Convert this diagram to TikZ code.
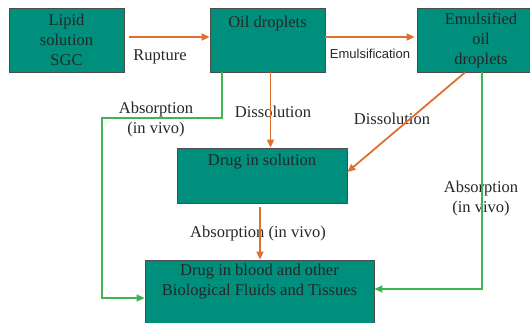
\documentclass[tikz,border=0pt]{standalone}
\usepackage{fontspec}
\setmainfont{Liberation Serif}
\newfontfamily\labelsans{Liberation Sans}
\usetikzlibrary{arrows.meta,positioning}

\definecolor{boxteal}{RGB}{0,143,125}
\definecolor{flowor}{RGB}{224,112,50}
\definecolor{absgreen}{RGB}{64,180,80}

\begin{document}
\begin{tikzpicture}[
  x=1pt, y=-1pt,
  font=\fontsize{16.5}{20}\selectfont,
  module/.style={draw=black!70, line width=0.8pt, fill=boxteal, inner sep=0pt, text=black!85, align=center, minimum width=115pt, minimum height=64pt},
  boxtext/.style={anchor=north, inner sep=5pt, text=black!85, align=center},
  flow/.style={-{Triangle[length=8pt,width=7pt]}, line width=1.8pt, draw=flowor},
  absorb/.style={-{Triangle[length=8pt,width=7pt]}, line width=1.6pt, draw=absgreen},
  tag/.style={text=black!85, align=center, inner sep=1pt}
]
\useasboundingbox (0,0) rectangle (530,322);
\clip (0,0) rectangle (530,322);

% boxes
\node[module] (lipid) at (66.5,40) {Lipid\\solution\\SGC};
\node[module, label={[boxtext, inner sep=8pt]north:Oil droplets}] (oil) at (267.5,40) {};
\node[module, minimum width=128pt] (emul) at (481,40) {Emulsified\\oil\\droplets};
\node[module, minimum width=170pt, minimum height=55pt, label={[boxtext, inner sep=6.5pt]north:Drug in solution}] (soln) at (262,175.5) {};
\node[module, minimum width=229pt, minimum height=68pt, label={[boxtext, inner sep=4.5pt]north:Drug in blood and other\\Biological Fluids and Tissues}] (blood) at (259.5,294) {};

% labels
\node[tag] (rupture) at (160,57) {Rupture};
\node[tag, font=\labelsans\fontsize{13}{15}\selectfont] (emulsif) at (370,54) {Emulsification};
\node[tag] (diss1) at (273,112) {Dissolution};
\node[tag] (diss2) at (392,119) {Dissolution};
\node[tag] (absleft) at (156,120) {Absorption\\(in vivo)};
\node[tag] (absright) at (481,199) {Absorption\\(in vivo)};
\node[tag] (absmid) at (258,234) {Absorption (in vivo)};

\coordinate (gturn) at (102,118);

% orange flows
\draw[flow, shorten <=5pt] ([yshift=3pt]lipid.east) -- ([yshift=3pt]oil.west);
\draw[flow, shorten >=2pt] ([yshift=3pt]oil.east) -- ([yshift=3pt]emul.west);
\draw[flow] ([xshift=3pt]oil.south) -- ([xshift=3pt]oil.south |- soln.north);
\draw[flow] ([xshift=-16pt]emul.south) -- ([yshift=3.5pt]soln.east);
\draw[flow, shorten <=4pt] ([xshift=-2pt]soln.south) -- ([xshift=-2pt]soln.south |- blood.north);

% green absorption paths
\draw[absorb] ([xshift=-45.5pt]oil.south) |- (gturn) |- ([yshift=-4pt]blood.west);
\draw[absorb] ([xshift=1pt]emul.south) |- ([yshift=5pt]blood.east);
\end{tikzpicture}
\end{document}
